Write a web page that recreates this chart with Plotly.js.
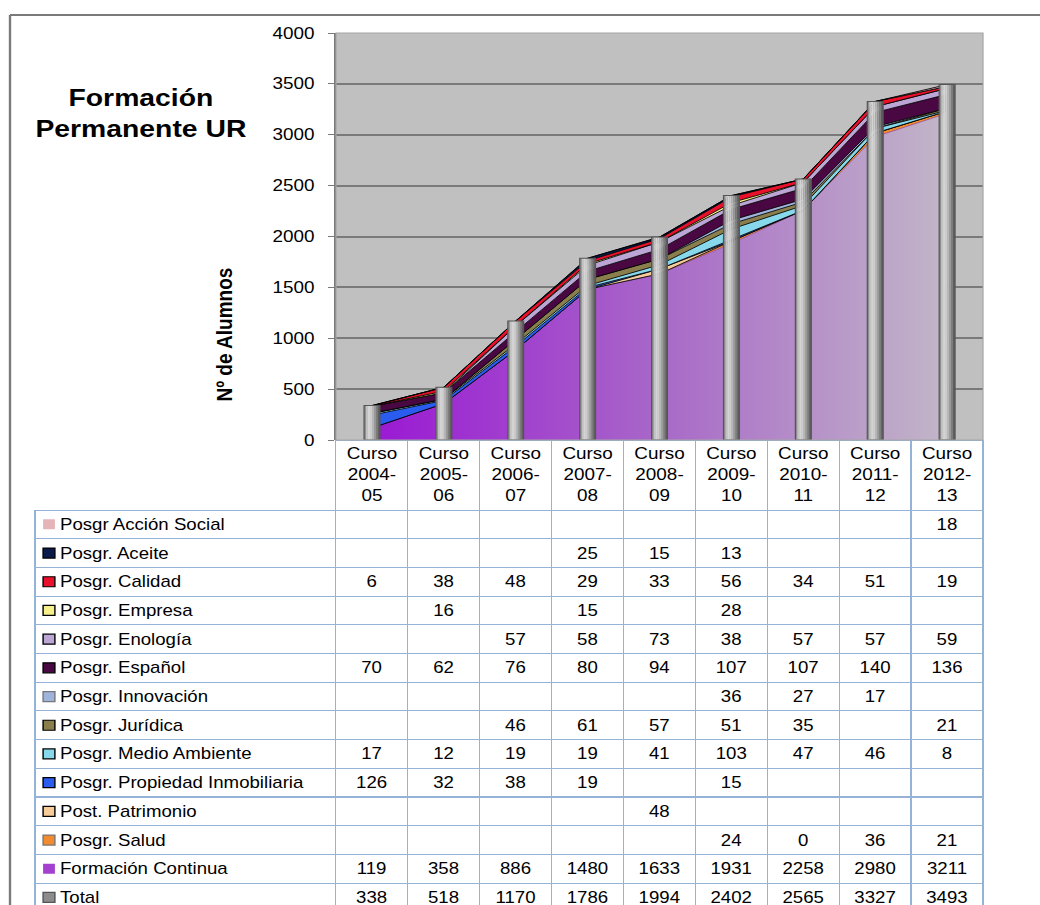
<!DOCTYPE html>
<html>
<head>
<meta charset="utf-8">
<script src="https://cdn.plot.ly/plotly-3.0.1.min.js"></script>
<style>
html,body{margin:0;padding:0;background:#fff;overflow:hidden;width:1040px;height:905px;}
#wrap{width:1040px;height:905px;overflow:hidden;position:relative;}
#chart{width:881px;height:920px;transform:scaleX(1.1805);transform-origin:0 0;}
</style>
</head>
<body>
<div id="wrap"><div id="chart"></div></div>
<script>
// ---------------- DATA ----------------
const categories = ['Curso 2004-05','Curso 2005-06','Curso 2006-07','Curso 2007-08','Curso 2008-09',
                    'Curso 2009-10','Curso 2010-11','Curso 2011-12','Curso 2012-13'];
const headerLabels = ['Curso<br>2004-<br>05','Curso<br>2005-<br>06','Curso<br>2006-<br>07','Curso<br>2007-<br>08',
                      'Curso<br>2008-<br>09','Curso<br>2009-<br>10','Curso<br>2010-<br>11','Curso<br>2011-<br>12','Curso<br>2012-<br>13'];

const accionSocial      = [null,null,null,null,null,null,null,null,18];
const aceite            = [null,null,null,25,15,13,null,null,null];
const calidad           = [6,38,48,29,33,56,34,51,19];
const empresa           = [null,16,null,15,null,28,null,null,null];
const enologia          = [null,null,57,58,73,38,57,57,59];
const espanol           = [70,62,76,80,94,107,107,140,136];
const innovacion        = [null,null,null,null,null,36,27,17,null];
const juridica          = [null,null,46,61,57,51,35,null,21];
const medioAmbiente     = [17,12,19,19,41,103,47,46,8];
const propiedad         = [126,32,38,19,null,15,null,null,null];
const patrimonio        = [null,null,null,null,48,null,null,null,null];
const salud             = [null,null,null,null,null,24,0,36,21];
const formacionContinua = [119,358,886,1480,1633,1931,2258,2980,3211];
const total             = [338,518,1170,1786,1994,2402,2565,3327,3493];

const seriesNames = ['Posgr Acción Social','Posgr. Aceite','Posgr. Calidad','Posgr. Empresa','Posgr. Enología',
  'Posgr. Español','Posgr. Innovación','Posgr. Jurídica','Posgr. Medio Ambiente','Posgr. Propiedad Inmobiliaria',
  'Post. Patrimonio','Posgr. Salud','Formación Continua','Total'];
const seriesValues = [accionSocial,aceite,calidad,empresa,enologia,espanol,innovacion,juridica,medioAmbiente,
  propiedad,patrimonio,salud,formacionContinua,total];
const seriesColors = ['#e6b3b8','#0a1a4a','#e8102a','#f5f08a','#bba6d6','#4a0842','#9fb4dc','#8a7f4c','#86d8ea',
  '#2a5cf0','#f8cc98','#f28a30','#a340d0','#8c8c8c'];
const keyLineColors = ['rgba(0,0,0,0)','#000','#000','#000','#000','#000','#777','#000','#000','#000','#000','#777',
  'rgba(0,0,0,0)','#555'];

// ---------------- STYLE ----------------
const FONT = 'Liberation Sans, Arial, sans-serif';
const H = 920, W = 1040;
const px = v => v / W;
const py = v => 1 - v / H;
const cylShades = ['#8e8e8e','#c2c2c2','#d4d4d4','#cdcdcd','#b6b6b6','#9a9a9a','#7c7c7c','#606060'];
const barW = 0.22;
const ROW_H = 28.7, TABLE_BODY_TOP = 510;

const traces = [];

// stacked areas (bottom = Formación Continua), skip Total
for (let i = 12; i >= 0; i--) {
  const t = {
    type: 'scatter', mode: 'lines', x: categories,
    y: seriesValues[i].map(v => v == null ? 0 : v),
    stackgroup: 'one', name: seriesNames[i],
    line: {color: '#000', width: 0.8},
    fillcolor: seriesColors[i],
    hoverinfo: 'skip', showlegend: false, xaxis: 'x', yaxis: 'y'
  };
  if (i === 12) {
    t.fillgradient = {type: 'horizontal', colorscale: [[0, '#9a18d4'], [0.5, '#a868c8'], [1, '#c2b6c8']]};
    t.line = {color: '#7a2aa0', width: 0.5};
  }
  traces.push(t);
}

// Total as cylinder-like bars (overlay axes so they sit in front of the areas)
const nS = cylShades.length;
cylShades.forEach((c, i) => {
  traces.push({
    type: 'bar', x: categories, y: total, xaxis: 'x2', yaxis: 'y2',
    width: barW / nS * 1.15, offset: -barW / 2 + i * barW / nS,
    marker: {color: c, line: {width: 0}}, hoverinfo: 'skip', showlegend: false
  });
});
traces.push({
  type: 'bar', x: categories, y: total, xaxis: 'x2', yaxis: 'y2', name: 'Total',
  width: barW, offset: -barW / 2,
  marker: {color: 'rgba(0,0,0,0)', line: {width: 1, color: '#555'}}, hoverinfo: 'skip', showlegend: false
});

// legend keys of the data table (one square per series row)
traces.push({
  type: 'scatter', mode: 'markers', xaxis: 'x3', yaxis: 'y3',
  x: seriesNames.map(() => 'key'), y: seriesNames,
  marker: {symbol: 'square', size: 10, color: seriesColors, line: {color: keyLineColors, width: 1.2}},
  hoverinfo: 'skip', showlegend: false
});

// data table (header row text comes from the category axis labels)
const NB = '\u00a0\u00a0\u00a0';
const labelCol = seriesNames.map(n => NB + n);
const valueCols = categories.map((c, j) =>
  seriesValues.map(s => s[j] == null ? '' : String(s[j])));
traces.push({
  type: 'table',
  domain: {x: [px(35), px(983)], y: [0, py(440)]},
  columnwidth: [301].concat(categories.map(() => 72)),
  header: {
    values: [''].concat(categories.map(() => '')),
    align: 'center', height: 70,
    fill: {color: 'rgba(0,0,0,0)'},
    line: {color: ['rgba(0,0,0,0)'].concat(categories.map(() => '#95b3d7')), width: 1},
    font: {family: FONT, size: 15, color: '#000'}
  },
  cells: {
    values: [labelCol].concat(valueCols),
    align: ['left'].concat(categories.map(() => 'center')),
    height: ROW_H,
    fill: {color: 'rgba(0,0,0,0)'},
    line: {color: '#95b3d7', width: 1},
    font: {family: FONT, size: 15.8, color: '#000'}
  }
});

const layout = {
  width: 881, height: H,
  margin: {l: 0, r: 0, t: 0, b: 0},
  paper_bgcolor: '#ffffff', plot_bgcolor: 'rgba(0,0,0,0)',
  showlegend: false,
  barmode: 'overlay',
  font: {family: FONT, color: '#000'},
  xaxis: {
    domain: [px(336), px(983)], type: 'category', categoryorder: 'array', categoryarray: categories,
    range: [-0.5, 8.5], tickmode: 'array', tickvals: categories, ticktext: headerLabels,
    showticklabels: true, tickangle: 0, ticks: '', ticklabelstandoff: 2,
    tickfont: {family: FONT, size: 16, color: '#000'},
    showgrid: false, zeroline: false, showline: false, fixedrange: true
  },
  yaxis: {
    domain: [py(440), py(33)], range: [0, 4000], dtick: 500,
    showgrid: true, gridcolor: '#7a7a7a', gridwidth: 2, zeroline: false,
    showline: true, linecolor: '#7a7a7a', linewidth: 2,
    ticks: 'outside', ticklen: 5, tickcolor: '#7a7a7a', tickwidth: 1,
    ticklabelstandoff: 8,
    tickfont: {family: FONT, size: 16, color: '#000'},
    fixedrange: true
  },
  xaxis2: {overlaying: 'x', type: 'category', categoryorder: 'array', categoryarray: categories,
    range: [-0.5, 8.5], visible: false, fixedrange: true},
  yaxis2: {overlaying: 'y', range: [0, 4000], visible: false, fixedrange: true},
  xaxis3: {domain: [px(40), px(58)], type: 'category', range: [-0.5, 0.5], visible: false, fixedrange: true},
  yaxis3: {anchor: 'x3', domain: [py(TABLE_BODY_TOP + 14 * ROW_H), py(TABLE_BODY_TOP)], type: 'category',
    categoryorder: 'array', categoryarray: seriesNames, range: [13.5, -0.5], visible: false, fixedrange: true},
  annotations: [{
    xref: 'paper', yref: 'paper', x: px(141), y: py(113), xanchor: 'center', yanchor: 'middle',
    text: '<b>Formación<br>Permanente UR</b>', showarrow: false, align: 'center',
    font: {family: FONT, size: 24, color: '#000'}
  }, {
    xref: 'paper', yref: 'paper', x: px(225), y: py(335), xanchor: 'center', yanchor: 'middle',
    text: '<b>Nº de Alumnos</b>', textangle: -90, showarrow: false,
    font: {family: FONT, size: 19, color: '#000'}
  }],
  shapes: [
    {type: 'rect', xref: 'x domain', yref: 'y domain', x0: 0, x1: 1, y0: 0, y1: 1,
     fillcolor: '#c0c0c0', line: {width: 0}, layer: 'below'},
    {type: 'rect', xref: 'x domain', yref: 'y domain', x0: 0, x1: 1, y0: 0, y1: 1,
     line: {color: '#a6a6a6', width: 1}, layer: 'above'},
    {type: 'line', xref: 'paper', yref: 'paper', x0: px(10), x1: 1.05, y0: py(15), y1: py(15),
     line: {color: '#7a7a7a', width: 2}},
    {type: 'line', xref: 'paper', yref: 'paper', x0: px(10), x1: px(10), y0: -0.05, y1: py(15),
     line: {color: '#7a7a7a', width: 2}}
  ]
};

Plotly.newPlot('chart', traces, layout, {displayModeBar: false, staticPlot: true});
</script>
</body>
</html>
